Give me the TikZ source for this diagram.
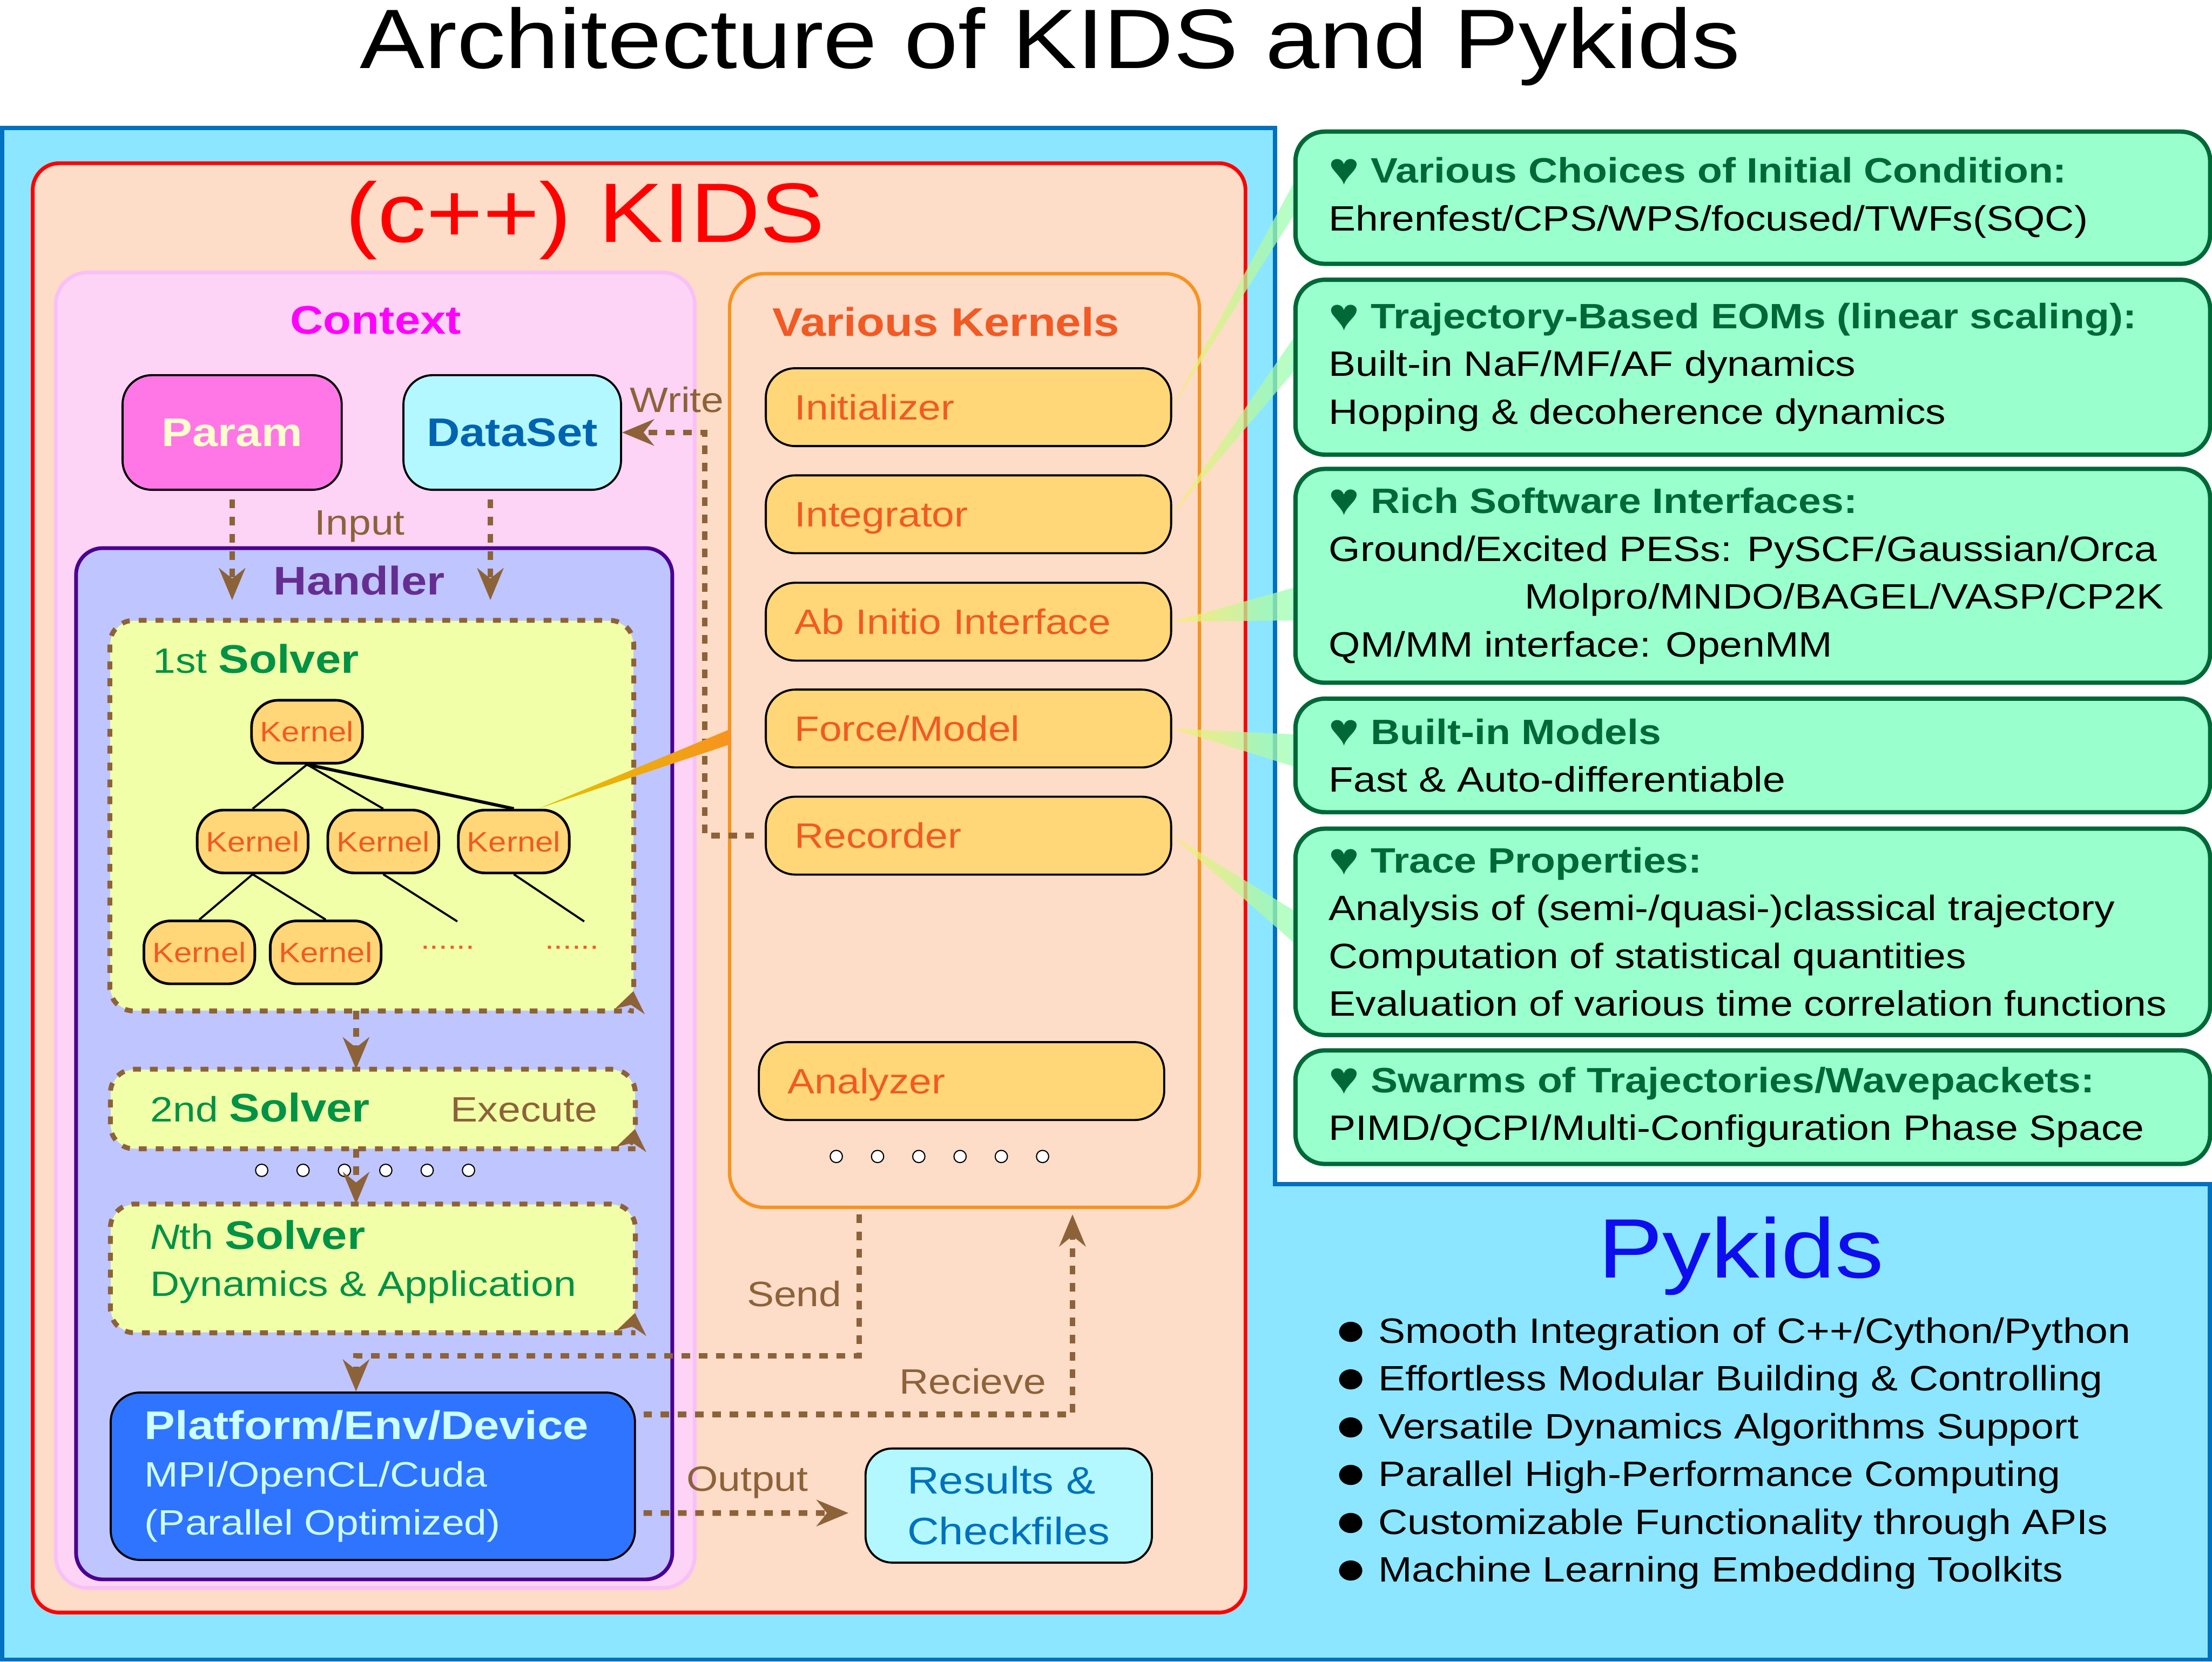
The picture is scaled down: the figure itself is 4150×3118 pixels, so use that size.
\documentclass[tikz,border=0pt]{standalone}
\usepackage{fontspec}
\setmainfont{Liberation Sans}[FakeStretch=1.15]
\usetikzlibrary{arrows.meta}

\definecolor{skyfill}{HTML}{8CE6FF}
\definecolor{skyline}{HTML}{0070C0}
\definecolor{kidsfill}{HTML}{FDDCC8}
\definecolor{ctxfill}{HTML}{FDD4F5}
\definecolor{ctxline}{HTML}{F9C0F7}
\definecolor{ctxtext}{HTML}{FF00FF}
\definecolor{paramfill}{HTML}{FF77E6}
\definecolor{paramtext}{HTML}{FFFFCC}
\definecolor{datafill}{HTML}{B3F8FF}
\definecolor{datatext}{HTML}{0063B0}
\definecolor{hdlfill}{HTML}{BFC5FF}
\definecolor{hdlline}{HTML}{4B0091}
\definecolor{hdltext}{HTML}{662D91}
\definecolor{solvfill}{HTML}{F0FFA8}
\definecolor{solvtext}{HTML}{009245}
\definecolor{flowbrown}{HTML}{8C6239}
\definecolor{kernfill}{HTML}{FFD778}
\definecolor{kerntext}{HTML}{F15A24}
\definecolor{kernline}{HTML}{F7931E}
\definecolor{platfill}{HTML}{2F74FF}
\definecolor{plattext}{HTML}{CCFFFF}
\definecolor{resulttext}{HTML}{0071BC}
\definecolor{featfill}{HTML}{99FFCC}
\definecolor{featline}{HTML}{006837}
\definecolor{pyblue}{HTML}{0D0DEE}
\definecolor{tipyellow}{HTML}{F8F06A}
\definecolor{tipgreen}{HTML}{98FFB8}
\definecolor{wedgegold}{HTML}{E2C400}
\definecolor{wedgeorange}{HTML}{F7941D}

\newcommand{\kidsreg}{\fontsize{18.8pt}{25.5pt}\selectfont}
\newcommand{\kidsbold}{\fontsize{21.3pt}{25.5pt}\selectfont\bfseries}
\newcommand{\kidstiny}{\fontsize{15pt}{18pt}\selectfont}
\newcommand{\kidshuge}{\fontsize{45pt}{50pt}\selectfont}
\newcommand{\featheart}{\raisebox{-0.8pt}{\fontsize{24pt}{25.5pt}\selectfont ♥}}
\newcommand{\pybullet}{\raisebox{-1.2pt}{\fontsize{25pt}{25.5pt}\selectfont ●}}
\newcommand{\solverloop}[1]{%
  \draw[solverline] ([yshift=0.45cm]#1.south east) -- (#1.north east)
    -- (#1.north west) -- (#1.south west) -- ([xshift=-0.45cm]#1.south east)
    arc[start angle=-90, end angle=-10, radius=0.45cm];}

\begin{document}
\begin{tikzpicture}[
  x=0.01cm, y=-0.01cm,
  panel/.style={
    rectangle,
    rounded corners=0.5cm,
    inner sep=0pt,
  },
  ctxnode/.style={
    panel,
    draw,
    line width=1.1pt,
    rounded corners=0.55cm,
    font=\kidsbold,
    minimum height=2.15cm,
  },
  kernelbox/.style={
    panel,
    draw,
    line width=1.1pt,
    rounded corners=0.55cm,
    fill=kernfill,
    text=kerntext,
    font=\kidsreg,
    minimum width=7.6cm,
    minimum height=1.46cm,
    inner xsep=0.54cm,
    text width=6.52cm,
    align=left,
    text height=0.47cm,
    text depth=0pt,
  },
  treenode/.style={
    panel,
    draw,
    line width=1.4pt,
    fill=kernfill,
    text=kerntext,
    font=\kidstiny,
    minimum width=2.08cm,
    minimum height=1.18cm,
  },
  solver/.style={
    panel,
    fill=solvfill,
    rounded corners=0.45cm,
    minimum width=9.83cm,
  },
  solverline/.style={
    draw=flowbrown,
    line width=2.6pt,
    dash pattern=on 4.2pt off 4.8pt,
    rounded corners=0.45cm,
    -{Stealth[length=11pt, width=16pt]},
  },
  flow/.style={
    draw=flowbrown,
    line width=3pt,
    dash pattern=on 4.6pt off 4.6pt,
    -{Stealth[length=17pt, width=14pt]},
  },
  note/.style={anchor=base, text=flowbrown, font=\kidsreg},
  feature/.style={
    panel,
    draw=featline,
    line width=2.3pt,
    fill=featfill,
    rounded corners=0.55cm,
    minimum width=17.15cm,
  },
  featext/.style={anchor=west, align=left, font=\kidsreg, inner sep=0pt},
  dot/.style={
    circle,
    draw,
    fill=white,
    line width=0.6pt,
    minimum size=0.23cm,
    inner sep=0pt,
  },
  callout/.style={left color=tipyellow, right color=tipgreen, fill opacity=0.75},
  branch/.style={line width=1.1pt},
]
% page and title
\fill[white] (0,0) rectangle (4150,3118);
\useasboundingbox (0,0) rectangle (4150,3118);
\node[font=\kidshuge, anchor=base] (title) at (1970,128) {Architecture of KIDS and Pykids};
\filldraw[fill=skyfill, draw=skyline, line width=2.3pt]
  (4,240) -- (2392,240) -- (2392,2222) -- (4146,2222) -- (4146,3114) -- (4,3114) -- cycle;

% c++ part
\node[panel, draw=red, line width=2pt, fill=kidsfill, minimum width=22.74cm,
  minimum height=27.18cm] (kids) at (1199,1666) {};
\node[font=\kidshuge, text=red, anchor=base] (kidsname) at (1098,454) {(c++) KIDS};

\node[panel, draw=ctxline, line width=2pt, fill=ctxfill, rounded corners=0.6cm,
  minimum width=11.98cm, minimum height=24.67cm] (context) at (704,1745.5) {};
\node[anchor=base, font=\kidsbold, text=ctxtext] (ctxname) at (705,627) {Context};
\node[ctxnode, fill=paramfill, text=paramtext, minimum width=4.11cm] (param) at (435.5,811.5) {Param};
\node[ctxnode, fill=datafill, text=datatext, minimum width=4.08cm] (dataset) at (961,811.5) {DataSet};

\node[panel, draw=hdlline, line width=2pt, fill=hdlfill, minimum width=11.18cm,
  minimum height=19.34cm] (handler) at (702,1996) {};
\node[anchor=base, font=\kidsbold, text=hdltext] (hdlname) at (674,1116) {Handler};

% solvers
\node[solver, minimum height=7.31cm, minimum width=9.81cm] (solverA) at (697.5,1530.5) {};
\node[solver, minimum height=1.48cm] (solverB) at (699.5,2081) {};
\node[solver, minimum height=2.40cm] (solverC) at (699.5,2380) {};
\solverloop{solverA}
\solverloop{solverB}
\solverloop{solverC}
\node[anchor=base west, font=\kidsreg, text=solvtext] (solverAname) at (275,1263) {1st {\kidsbold Solver}};
\node[anchor=base west, font=\kidsreg, text=solvtext] (solverBname) at (270,2105) {2nd {\kidsbold Solver}};
\node[note, anchor=base east] (execute) at (1133,2105) {Execute};
\node[anchor=base west, font=\kidsreg, text=solvtext] (solverCname) at (270,2344) {\textit{N}th {\kidsbold Solver}};
\node[anchor=base west, font=\kidsreg, text=solvtext] (solverCtext) at (270,2432) {Dynamics \& Application};
\foreach \i in {0,...,5}
  \node[dot] (sdot\i) at (491+77.6*\i,2196) {};

% kernel tree of the 1st solver
\node[treenode] (kroot) at (576,1373) {Kernel};
\node[treenode] (kone) at (474,1579) {Kernel};
\node[treenode] (ktwo) at (719,1579) {Kernel};
\node[treenode] (kthree) at (964,1579) {Kernel};
\node[treenode] (kfour) at (374,1787) {Kernel};
\node[treenode] (kfive) at (611,1787) {Kernel};
\coordinate (leadtwo) at (858,1729);
\coordinate (leadthree) at (1096,1729);
\node[font=\kidstiny, text=kerntext] (moretwo) at (840,1778) {......};
\node[font=\kidstiny, text=kerntext] (morethree) at (1073,1778) {......};
\draw[branch] (kroot.south) -- (kone.north);
\draw[branch] (kroot.south) -- (ktwo.north);
\draw[branch, line width=1.7pt] (kroot.south) -- (kthree.north);
\draw[branch] (kone.south) -- (kfour.north);
\draw[branch] (kone.south) -- (kfive.north);
\draw[branch] (ktwo.south) -- (leadtwo);
\draw[branch] (kthree.south) -- (leadthree);

\node[panel, draw, line width=1.1pt, fill=platfill, rounded corners=0.55cm,
  minimum width=9.83cm, minimum height=3.14cm] (platform) at (699.5,2770) {};
\node[featext, text=plattext] (plattxt) at ([xshift=0.65cm]platform.west)
  {{\kidsbold Platform/Env/Device}\\MPI/OpenCL/Cuda\\(Parallel Optimized)};

% kernels
\node[panel, draw=kernline, line width=1.8pt, rounded corners=0.65cm,
  minimum width=8.81cm, minimum height=17.51cm] (kernels) at (1809.5,1389.5) {};
\node[anchor=base, font=\kidsbold, text=kerntext] (kernelsname) at (1775,631) {Various Kernels};
\node[kernelbox] (init) at (1817,764) {Initializer};
\node[kernelbox] (integ) at (1817,965) {Integrator};
\node[kernelbox] (abinit) at (1817,1166.5) {Ab Initio Interface};
\node[kernelbox] (force) at (1817,1367) {Force/Model};
\node[kernelbox] (recorder) at (1817,1568) {Recorder};
\node[kernelbox] (analyzer) at (1804,2028.5) {Analyzer};
\foreach \i in {0,...,5}
  \node[dot] (kdot\i) at (1569+77.4*\i,2170) {};

\node[panel, draw, line width=1.1pt, fill=datafill, rounded corners=0.5cm,
  minimum width=5.37cm, minimum height=2.14cm, text=resulttext, align=left,
  font=\fontsize{20.4pt}{27.3pt}\selectfont] (results) at (1892.5,2825) {Results \&\\Checkfiles};

% features
\node[feature, minimum height=2.48cm] (featA) at (3288.5,371) {};
\node[feature, minimum height=3.28cm] (featB) at (3288.5,689) {};
\node[feature, minimum height=4.01cm] (featC) at (3288.5,1080.5) {};
\node[feature, minimum height=2.13cm] (featD) at (3288.5,1417.5) {};
\node[feature, minimum height=3.87cm] (featE) at (3288.5,1748.5) {};
\node[feature, minimum height=2.13cm] (featF) at (3288.5,2077.5) {};
\node[featext] (featAtxt) at ([xshift=0.66cm]featA.west)
  {\textcolor{featline}{\featheart\ \textbf{Various Choices of Initial Condition:}}\\
   Ehrenfest/CPS/WPS/focused/TWFs(SQC)};
\node[featext] (featBtxt) at ([xshift=0.66cm]featB.west)
  {\textcolor{featline}{\featheart\ \textbf{Trajectory-Based EOMs (linear scaling):}}\\
   Built-in NaF/MF/AF dynamics\\
   Hopping \& decoherence dynamics};
\node[featext] (featCtxt) at ([xshift=0.66cm]featC.west)
  {\textcolor{featline}{\featheart\ \textbf{Rich Software Interfaces:}}\\
   Ground/Excited PESs: PySCF/Gaussian/Orca\\
   \hspace*{3.67cm}Molpro/MNDO/BAGEL/VASP/CP2K\\
   QM/MM interface: OpenMM};
\node[featext] (featDtxt) at ([xshift=0.66cm]featD.west)
  {\textcolor{featline}{\featheart\ \textbf{Built-in Models}}\\
   Fast \& Auto-differentiable};
\node[featext] (featEtxt) at ([xshift=0.66cm]featE.west)
  {\textcolor{featline}{\featheart\ \textbf{Trace Properties:}}\\
   Analysis of (semi-/quasi-)classical trajectory\\
   Computation of statistical quantities\\
   Evaluation of various time correlation functions};
\node[featext] (featFtxt) at ([xshift=0.66cm]featF.west)
  {\textcolor{featline}{\featheart\ \textbf{Swarms of Trajectories/Wavepackets:}}\\
   PIMD/QCPI/Multi-Configuration Phase Space};

% pykids
\node[font=\kidshuge, text=pyblue, anchor=base] (pyname) at (3266,2398) {Pykids};
\node[featext] (pylist) at (2503,2727)
  {\pybullet\ Smooth Integration of C++/Cython/Python\\
   \pybullet\ Effortless Modular Building \& Controlling\\
   \pybullet\ Versatile Dynamics Algorithms Support\\
   \pybullet\ Parallel High-Performance Computing\\
   \pybullet\ Customizable Functionality through APIs\\
   \pybullet\ Machine Learning Embedding Toolkits};

% data flow
\coordinate (spine) at (668,2000);
\draw[flow] ([yshift=-0.16cm]param.south) -- ([yshift=-0.1cm]param.south |- hdlname.base);
\draw[flow] ([xshift=-0.41cm, yshift=-0.16cm]dataset.south)
  -- ([xshift=-0.41cm, yshift=-0.1cm]dataset.south |- hdlname.base);
\node[note] (inputlbl) at (675,1004) {Input};
\draw[flow] ([xshift=-0.2cm]recorder.west) -| ([xshift=1.55cm]dataset.east) -- (dataset.east);
\node[note] (writelbl) at (1270,774) {Write};
\draw[flow] (solverA.south -| spine) -- (solverB.north -| spine);
\draw[flow] (solverB.south -| spine) -- (solverC.north -| spine);
\draw[flow] ([xshift=-1.975cm, yshift=-0.1cm]kernels.south)
  |- ([yshift=0.67cm]platform.north -| spine) -- (platform.north -| spine);
\node[note] (sendlbl) at (1490,2451) {Send};
\draw[flow] ([xshift=0.14cm, yshift=1.16cm]platform.east)
  -| ([xshift=2.025cm, yshift=-0.1cm]kernels.south);
\node[note] (recvlbl) at (1825,2616) {Recieve};
\draw[flow] ([xshift=0.14cm, yshift=-0.69cm]platform.east)
  -- ([xshift=-0.3cm, yshift=-0.14cm]results.west);
\node[note] (outlbl) at (1402,2798) {Output};

% callouts
\shade[left color=wedgegold, right color=wedgeorange]
  ([xshift=-0.61cm]kthree.north east) -- ([yshift=-0.03cm]kernels.west |- force.west)
  -- ([yshift=-0.31cm]kernels.west |- force.west) -- cycle;
\shade[callout] (init.east) -- ([yshift=0.26cm]featA.west) -- ([yshift=-0.34cm]featA.west) -- cycle;
\shade[callout] (integ.east) -- ([yshift=0.54cm]featB.west) -- ([yshift=-0.09cm]featB.west) -- cycle;
\shade[callout] (abinit.east) -- ([yshift=-0.225cm]featC.west) -- ([yshift=-0.835cm]featC.west) -- cycle;
\shade[callout] (force.east) -- ([yshift=0.395cm]featD.west) -- ([yshift=-0.205cm]featD.west) -- cycle;
\shade[callout] (recorder.east) -- ([yshift=0.405cm]featE.west) -- ([yshift=-0.195cm]featE.west) -- cycle;
\end{tikzpicture}
\end{document}
